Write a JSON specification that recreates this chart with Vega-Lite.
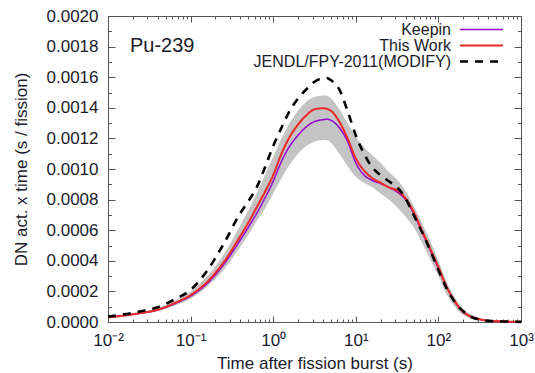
{
  "$schema": "https://vega.github.io/schema/vega-lite/v6.json",
  "width": 413,
  "height": 306,
  "autosize": {"type": "none"},
  "padding": {"left": 108, "top": 16, "right": 14, "bottom": 51},
  "background": "white",
  "title": {"text": "Pu-239", "anchor": "start", "frame": "group", "orient": "top", "offset": 0, "dx": 22, "dy": 65, "baseline": "alphabetic", "fontSize": 20, "font": "Liberation Sans", "fontWeight": "normal", "color": "#1a1a2a"},
  "config": {
    "font": "Liberation Sans",
    "view": {"stroke": "#555555", "strokeWidth": 1},
    "axis": {"grid": false, "labelFlush": false, "labelFont": "Liberation Sans", "labelFontSize": 17, "labelColor": "#1a1a2a", "titleFont": "Liberation Sans", "titleFontSize": 17, "titleFontWeight": "normal", "titleColor": "#1a1a2a", "tickColor": "#555555", "domain": false}
  },
  "data": {"values": [
    {"t": 0.01, "Keepin": 0.000030, "This Work": 0.000030, "JENDL/FPY-2011(MODIFY)": 0.000035, "lo": 0.000025, "hi": 0.000036},
    {"t": 0.02512, "Keepin": 0.000058, "This Work": 0.000059, "JENDL/FPY-2011(MODIFY)": 0.000070, "lo": 0.000052, "hi": 0.000066},
    {"t": 0.03981, "Keepin": 0.000078, "This Work": 0.000080, "JENDL/FPY-2011(MODIFY)": 0.000096, "lo": 0.000070, "hi": 0.000090},
    {"t": 0.0631, "Keepin": 0.000118, "This Work": 0.000122, "JENDL/FPY-2011(MODIFY)": 0.000146, "lo": 0.000106, "hi": 0.000138},
    {"t": 0.1, "Keepin": 0.000170, "This Work": 0.000176, "JENDL/FPY-2011(MODIFY)": 0.000210, "lo": 0.000152, "hi": 0.000200},
    {"t": 0.1585, "Keepin": 0.000252, "This Work": 0.000262, "JENDL/FPY-2011(MODIFY)": 0.000335, "lo": 0.000230, "hi": 0.000300},
    {"t": 0.2512, "Keepin": 0.000375, "This Work": 0.000390, "JENDL/FPY-2011(MODIFY)": 0.000510, "lo": 0.000340, "hi": 0.000440},
    {"t": 0.3981, "Keepin": 0.000535, "This Work": 0.000560, "JENDL/FPY-2011(MODIFY)": 0.000710, "lo": 0.000490, "hi": 0.000630},
    {"t": 0.5012, "Keepin": 0.000620, "This Work": 0.000650, "JENDL/FPY-2011(MODIFY)": 0.000790, "lo": 0.000570, "hi": 0.000730},
    {"t": 0.631, "Keepin": 0.000710, "This Work": 0.000750, "JENDL/FPY-2011(MODIFY)": 0.000880, "lo": 0.000660, "hi": 0.000840},
    {"t": 0.7943, "Keepin": 0.000810, "This Work": 0.000850, "JENDL/FPY-2011(MODIFY)": 0.001010, "lo": 0.000740, "hi": 0.000960},
    {"t": 1, "Keepin": 0.000920, "This Work": 0.000960, "JENDL/FPY-2011(MODIFY)": 0.001150, "lo": 0.000840, "hi": 0.001080},
    {"t": 1.259, "Keepin": 0.001050, "This Work": 0.001100, "JENDL/FPY-2011(MODIFY)": 0.001270, "lo": 0.000940, "hi": 0.001200},
    {"t": 1.585, "Keepin": 0.001150, "This Work": 0.001210, "JENDL/FPY-2011(MODIFY)": 0.001380, "lo": 0.001030, "hi": 0.001300},
    {"t": 1.995, "Keepin": 0.001220, "This Work": 0.001290, "JENDL/FPY-2011(MODIFY)": 0.001460, "lo": 0.001100, "hi": 0.001380},
    {"t": 2.512, "Keepin": 0.001275, "This Work": 0.001350, "JENDL/FPY-2011(MODIFY)": 0.001520, "lo": 0.001150, "hi": 0.001440},
    {"t": 3.162, "Keepin": 0.001310, "This Work": 0.001390, "JENDL/FPY-2011(MODIFY)": 0.001570, "lo": 0.001180, "hi": 0.001470},
    {"t": 3.981, "Keepin": 0.001322, "This Work": 0.001397, "JENDL/FPY-2011(MODIFY)": 0.001593, "lo": 0.001190, "hi": 0.001480},
    {"t": 4.467, "Keepin": 0.001325, "This Work": 0.001393, "JENDL/FPY-2011(MODIFY)": 0.001595, "lo": 0.001188, "hi": 0.001478},
    {"t": 5.012, "Keepin": 0.001318, "This Work": 0.001380, "JENDL/FPY-2011(MODIFY)": 0.001580, "lo": 0.001170, "hi": 0.001460},
    {"t": 6.31, "Keepin": 0.001270, "This Work": 0.001310, "JENDL/FPY-2011(MODIFY)": 0.001520, "lo": 0.001100, "hi": 0.001390},
    {"t": 7.943, "Keepin": 0.001180, "This Work": 0.001200, "JENDL/FPY-2011(MODIFY)": 0.001380, "lo": 0.001020, "hi": 0.001300},
    {"t": 10, "Keepin": 0.001040, "This Work": 0.001070, "JENDL/FPY-2011(MODIFY)": 0.001220, "lo": 0.000950, "hi": 0.001210},
    {"t": 12.59, "Keepin": 0.000960, "This Work": 0.000990, "JENDL/FPY-2011(MODIFY)": 0.001100, "lo": 0.000910, "hi": 0.001140},
    {"t": 15.85, "Keepin": 0.000925, "This Work": 0.000940, "JENDL/FPY-2011(MODIFY)": 0.001010, "lo": 0.000880, "hi": 0.001090},
    {"t": 19.95, "Keepin": 0.000905, "This Work": 0.000910, "JENDL/FPY-2011(MODIFY)": 0.000960, "lo": 0.000840, "hi": 0.001040},
    {"t": 25.12, "Keepin": 0.000880, "This Work": 0.000880, "JENDL/FPY-2011(MODIFY)": 0.000920, "lo": 0.000800, "hi": 0.000980},
    {"t": 31.62, "Keepin": 0.000850, "This Work": 0.000860, "JENDL/FPY-2011(MODIFY)": 0.000880, "lo": 0.000750, "hi": 0.000930},
    {"t": 39.81, "Keepin": 0.000800, "This Work": 0.000810, "JENDL/FPY-2011(MODIFY)": 0.000810, "lo": 0.000690, "hi": 0.000860},
    {"t": 50.12, "Keepin": 0.000710, "This Work": 0.000720, "JENDL/FPY-2011(MODIFY)": 0.000700, "lo": 0.000620, "hi": 0.000760},
    {"t": 63.1, "Keepin": 0.000590, "This Work": 0.000600, "JENDL/FPY-2011(MODIFY)": 0.000590, "lo": 0.000520, "hi": 0.000650},
    {"t": 79.43, "Keepin": 0.000470, "This Work": 0.000480, "JENDL/FPY-2011(MODIFY)": 0.000470, "lo": 0.000410, "hi": 0.000530},
    {"t": 100, "Keepin": 0.000350, "This Work": 0.000360, "JENDL/FPY-2011(MODIFY)": 0.000340, "lo": 0.000300, "hi": 0.000400},
    {"t": 125.9, "Keepin": 0.000230, "This Work": 0.000230, "JENDL/FPY-2011(MODIFY)": 0.000220, "lo": 0.000180, "hi": 0.000260},
    {"t": 158.5, "Keepin": 0.000130, "This Work": 0.000135, "JENDL/FPY-2011(MODIFY)": 0.000130, "lo": 0.000100, "hi": 0.000160},
    {"t": 199.5, "Keepin": 0.000066, "This Work": 0.000067, "JENDL/FPY-2011(MODIFY)": 0.000070, "lo": 0.000045, "hi": 0.000085},
    {"t": 251.2, "Keepin": 0.000033, "This Work": 0.000034, "JENDL/FPY-2011(MODIFY)": 0.000032, "lo": 0.000020, "hi": 0.000050},
    {"t": 316.2, "Keepin": 0.000017, "This Work": 0.000018, "JENDL/FPY-2011(MODIFY)": 0.000016, "lo": 0.000010, "hi": 0.000025},
    {"t": 398.1, "Keepin": 0.000009, "This Work": 0.000009, "JENDL/FPY-2011(MODIFY)": 0.000008, "lo": 0.000005, "hi": 0.000012},
    {"t": 631, "Keepin": 0.000003, "This Work": 0.000003, "JENDL/FPY-2011(MODIFY)": 0.000003, "lo": 0.000002, "hi": 0.000004},
    {"t": 1000, "Keepin": 0.000001, "This Work": 0.000001, "JENDL/FPY-2011(MODIFY)": 0.000001, "lo": 0.000001, "hi": 0.000001}
  ]},
  "resolve": {"axis": {"x": "independent", "y": "independent"}},
  "layer": [
    {
      "mark": {"type": "area", "color": "#c4c4c4", "interpolate": "monotone", "opacity": 1},
      "encoding": {
        "x": {"field": "t", "type": "quantitative", "scale": {"type": "log", "domain": [0.01, 1000], "nice": false},
          "axis": {"orient": "bottom", "values": [0.01, 0.1, 1, 10, 100, 1000], "ticks": false, "labelPadding": 10, "labelBaseline": "top", "title": "Time after fission burst (s)", "titlePadding": 7,
            "labelExpr": "'10' + (datum.value < 0.05 ? '⁻²' : datum.value < 0.5 ? '⁻¹' : datum.value < 5 ? '⁰' : datum.value < 50 ? '¹' : datum.value < 500 ? '²' : '³')"}},
        "y": {"field": "lo", "type": "quantitative", "scale": {"domain": [0, 0.002], "nice": false},
          "axis": {"orient": "left", "values": [0, 0.0002, 0.0004, 0.0006, 0.0008, 0.001, 0.0012, 0.0014, 0.0016, 0.0018, 0.002], "format": ".4f", "ticks": false, "labelPadding": 10, "title": "DN act. x time (s / fission)", "titlePadding": 16}},
        "y2": {"field": "hi"}
      }
    },
    {
      "mark": {"type": "point", "opacity": 0},
      "encoding": {
        "x": {"field": "t", "type": "quantitative", "scale": {"type": "log", "domain": [0.01, 1000], "nice": false},
          "axis": {"orient": "bottom", "values": [0.01, 0.1, 1, 10, 100, 1000], "labels": false, "tickSize": -6, "title": null}},
        "y": {"field": "lo", "type": "quantitative", "scale": {"domain": [0, 0.002], "nice": false},
          "axis": {"orient": "left", "values": [0, 0.0002, 0.0004, 0.0006, 0.0008, 0.001, 0.0012, 0.0014, 0.0016, 0.0018, 0.002], "labels": false, "tickSize": -7, "title": null}}
      }
    },
    {
      "mark": {"type": "point", "opacity": 0},
      "encoding": {
        "x": {"field": "t", "type": "quantitative", "scale": {"type": "log", "domain": [0.01, 1000], "nice": false},
          "axis": {"orient": "top", "values": [0.01, 0.1, 1, 10, 100, 1000], "labels": false, "tickSize": -6, "title": null}},
        "y": {"field": "lo", "type": "quantitative", "scale": {"domain": [0, 0.002], "nice": false},
          "axis": {"orient": "right", "values": [0, 0.0002, 0.0004, 0.0006, 0.0008, 0.001, 0.0012, 0.0014, 0.0016, 0.0018, 0.002], "labels": false, "tickSize": -7, "title": null}}
      }
    },
    {
      "mark": {"type": "point", "opacity": 0},
      "encoding": {
        "x": {"field": "t", "type": "quantitative", "scale": {"type": "log", "domain": [0.01, 1000], "nice": false},
          "axis": {"orient": "bottom", "values": [0.02, 0.03, 0.04, 0.05, 0.06, 0.07, 0.08, 0.09, 0.2, 0.3, 0.4, 0.5, 0.6, 0.7, 0.8, 0.9, 2, 3, 4, 5, 6, 7, 8, 9, 20, 30, 40, 50, 60, 70, 80, 90, 200, 300, 400, 500, 600, 700, 800, 900], "labels": false, "tickSize": -3, "title": null}},
        "y": {"field": "lo", "type": "quantitative", "scale": {"domain": [0, 0.002], "nice": false},
          "axis": {"orient": "left", "values": [0.0001, 0.0003, 0.0005, 0.0007, 0.0009, 0.0011, 0.0013, 0.0015, 0.0017, 0.0019], "labels": false, "tickSize": -3.5, "title": null}}
      }
    },
    {
      "mark": {"type": "point", "opacity": 0},
      "encoding": {
        "x": {"field": "t", "type": "quantitative", "scale": {"type": "log", "domain": [0.01, 1000], "nice": false},
          "axis": {"orient": "top", "values": [0.02, 0.03, 0.04, 0.05, 0.06, 0.07, 0.08, 0.09, 0.2, 0.3, 0.4, 0.5, 0.6, 0.7, 0.8, 0.9, 2, 3, 4, 5, 6, 7, 8, 9, 20, 30, 40, 50, 60, 70, 80, 90, 200, 300, 400, 500, 600, 700, 800, 900], "labels": false, "tickSize": -3, "title": null}},
        "y": {"field": "lo", "type": "quantitative", "scale": {"domain": [0, 0.002], "nice": false},
          "axis": {"orient": "right", "values": [0.0001, 0.0003, 0.0005, 0.0007, 0.0009, 0.0011, 0.0013, 0.0015, 0.0017, 0.0019], "labels": false, "tickSize": -3.5, "title": null}}
      }
    },
    {
      "transform": [{"fold": ["Keepin", "This Work", "JENDL/FPY-2011(MODIFY)"], "as": ["series", "value"]}],
      "mark": {"type": "line", "interpolate": "monotone"},
      "encoding": {
        "x": {"field": "t", "type": "quantitative", "scale": {"type": "log", "domain": [0.01, 1000], "nice": false}, "axis": null},
        "y": {"field": "value", "type": "quantitative", "scale": {"domain": [0, 0.002], "nice": false}, "axis": null},
        "color": {"field": "series", "type": "nominal",
          "scale": {"domain": ["Keepin", "This Work", "JENDL/FPY-2011(MODIFY)"], "range": ["#9400d3", "#ee2a24", "#000000"]},
          "legend": {"title": null, "orient": "none", "legendX": 365.5, "legendY": 5.5, "padding": 0, "labelAlign": "right", "labelOffset": -38.5, "symbolType": "M-4.3,0H4.3", "symbolSize": 100, "labelFontSize": 16, "labelFont": "Liberation Sans", "labelColor": "#1a1a2a", "labelLimit": 400, "rowPadding": -1}},
        "strokeWidth": {"field": "series", "type": "nominal", "scale": {"domain": ["Keepin", "This Work", "JENDL/FPY-2011(MODIFY)"], "range": [1.5, 2.6, 2.6]}},
        "strokeDash": {"field": "series", "type": "nominal", "scale": {"domain": ["Keepin", "This Work", "JENDL/FPY-2011(MODIFY)"], "range": [[1, 0], [1, 0], [8, 7]]}}
      }
    }
  ]
}
